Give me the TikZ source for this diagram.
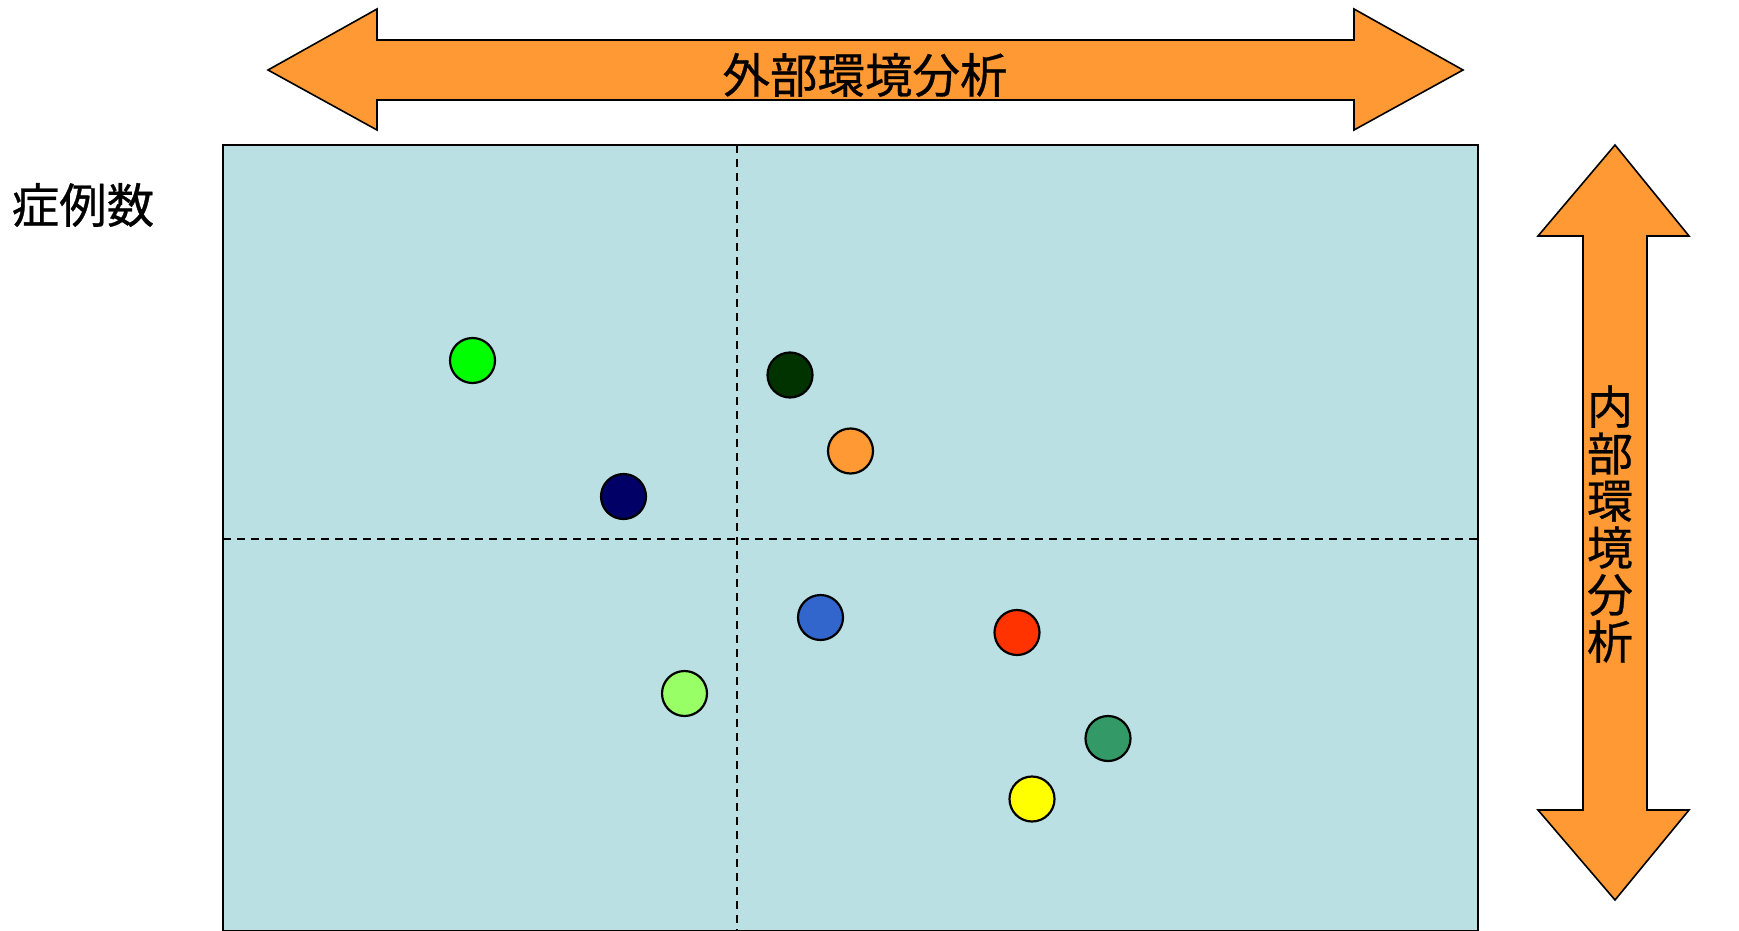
\documentclass[tikz,border=0pt]{standalone}
\usepackage{fontspec}
\newfontfamily\jpfont[FakeBold=0.6]{Noto Sans CJK JP}
\definecolor{arroworange}{HTML}{FF9933}
\definecolor{panelbg}{HTML}{BAE0E3}
\definecolor{cGreen}{HTML}{00FF00}
\definecolor{cDarkGreen}{HTML}{003300}
\definecolor{cOrange}{HTML}{FF9933}
\definecolor{cNavy}{HTML}{000066}
\definecolor{cBlue}{HTML}{3366CC}
\definecolor{cRed}{HTML}{FF3300}
\definecolor{cLightGreen}{HTML}{99FF66}
\definecolor{cSeaGreen}{HTML}{339966}
\definecolor{cYellow}{HTML}{FFFF00}
\tikzset{
  bigarrow/.style={fill=arroworange, draw=black, line width=1.6pt, line join=miter},
  panel/.style={fill=panelbg, draw=black, line width=1.6pt},
  divider/.style={draw=black, line width=2pt, dash pattern=on 8pt off 6pt},
  dot/.style={circle, draw=black, line width=2.2pt, minimum size=45pt, inner sep=0pt},
  jplabel/.style={font=\jpfont\fontsize{46pt}{47pt}\selectfont, text=black, inner sep=0pt},
  toplabel/.style={font=\jpfont\fontsize{47.5pt}{47pt}\selectfont, text=black, inner sep=0pt}
}
\begin{document}
\begin{tikzpicture}[x=1pt, y=-1pt]
\useasboundingbox (0,0) rectangle (1739,931);
% panel
\path[panel] (223,145) -- (223,931) -- (1478,931) -- (1478,145) -- cycle;
\coordinate (vtop) at (736.5,145);
\coordinate (vbot) at (736.5,931);
\coordinate (hleft) at (223,539);
\coordinate (hright) at (1478,539);
\draw[divider] (vtop) -- (vbot);
\draw[divider] (hleft) -- (hright);
% top double arrow
\path[bigarrow] (268,70) -- (377,9) -- (377,40) -- (1354,40) -- (1354,9) -- (1463,70)
  -- (1354,130) -- (1354,100) -- (377,100) -- (377,130) -- cycle;
\node[toplabel] (ext) at (865,75) {外部環境分析};
% right double arrow
\path[bigarrow] (1615,145) -- (1689,236) -- (1647,236) -- (1647,810) -- (1689,810)
  -- (1615,900) -- (1538,810) -- (1583,810) -- (1583,236) -- (1538,236) -- cycle;
\node[jplabel, align=center] (int) at (1610,524) {内\\部\\環\\境\\分\\析};
% y label
\node[toplabel] (cases) at (83,205) {症例数};
% dots
\node[dot, fill=cGreen] (d1) at (472.5,360.5) {};
\node[dot, fill=cDarkGreen] (d2) at (790,375) {};
\node[dot, fill=cOrange] (d3) at (850.5,451) {};
\node[dot, fill=cNavy] (d4) at (623.5,496.5) {};
\node[dot, fill=cBlue] (d5) at (820.5,617.5) {};
\node[dot, fill=cRed] (d6) at (1017,632.5) {};
\node[dot, fill=cLightGreen] (d7) at (684.5,693.5) {};
\node[dot, fill=cSeaGreen] (d8) at (1108,738.5) {};
\node[dot, fill=cYellow] (d9) at (1032,799) {};
\end{tikzpicture}
\end{document}
